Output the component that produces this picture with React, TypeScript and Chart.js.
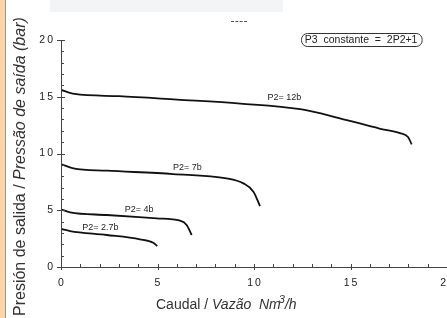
import React, { useEffect, useRef } from "react";
import { Chart, registerables } from "chart.js";

Chart.register(...registerables);

// ---- data ----
const flow12 = [0, 0.7, 3, 6, 9.3, 12.4, 14.45, 16.5, 17.56, 17.98, 18.17];
const press12 = [15.6, 15.25, 15.05, 14.75, 14.4, 13.9, 13.1, 12.2, 11.8, 11.45, 10.8];
const flow7 = [0, 0.64, 2.37, 5.82, 8.58, 9.45, 9.97, 10.31];
const press7 = [9.07, 8.69, 8.49, 8.19, 7.81, 7.37, 6.64, 5.37];
const flow4 = [0, 0.47, 2.37, 4.96, 6.17, 6.51, 6.77];
const press4 = [5.08, 4.82, 4.58, 4.29, 4.08, 3.7, 2.82];
const flow27 = [0, 0.47, 2.37, 4.09, 4.78, 4.99];
const press27 = [3.35, 3.17, 2.82, 2.44, 2.14, 1.85];

const seriesNames = ["P2= 12b", "P2= 7b", "P2= 4b", "P2= 2.7b"];
const labelAtX = [10.7, 5.8, 3.3, 1.1];
const labelAtY = [14.9, 8.8, 5.1, 3.5];

const xTicks = [0, 5, 10, 15, 20];
const yTicks = [0, 5, 10, 15, 20];
const axisMin = 0;
const axisMax = 20;
const noteText = "P3  constante  =  2P2+1";
const noteX = 15.55;
const noteY = 20.05;

const yTitleA = "Presión de salida / ";
const yTitleB = "Pressão de saída (bar)";
const xTitleA = "Caudal / ";
const xTitleB = "Vazão  Nm";
const xTitleSup = "3";
const xTitleC = "/h";

const FONT = '"Liberation Sans", Arial, Helvetica, sans-serif';

function pts(xs: number[], ys: number[]) {
  return xs.map((x, i) => ({ x, y: ys[i] }));
}

const decorPlugin = {
  id: "decor",
  afterDraw(chart: any) {
    const ctx: CanvasRenderingContext2D = chart.ctx;
    const xs = chart.scales.x;
    const ys = chart.scales.y;
    const x0 = xs.getPixelForValue(axisMin);
    const y0 = ys.getPixelForValue(axisMin);
    const xEnd = xs.getPixelForValue(axisMax);
    const yEnd = ys.getPixelForValue(axisMax);
    ctx.save();
    ctx.strokeStyle = "#444";
    ctx.lineWidth = 1;
    // axis lines
    ctx.beginPath();
    ctx.moveTo(Math.round(x0) + 0.5, yEnd);
    ctx.lineTo(Math.round(x0) + 0.5, y0);
    ctx.moveTo(x0, Math.round(y0) + 0.5);
    ctx.lineTo(xEnd, Math.round(y0) + 0.5);
    ctx.stroke();
    // ticks
    ctx.beginPath();
    for (let v = axisMin; v <= axisMax; v++) {
      const py = Math.round(ys.getPixelForValue(v)) + 0.5;
      const px = Math.round(xs.getPixelForValue(v)) + 0.5;
      if (v % 5 === 0) {
        ctx.moveTo(x0 - 4, py);
        ctx.lineTo(x0 + 4, py);
        ctx.moveTo(px, y0 - 3);
        ctx.lineTo(px, y0 + 3);
      } else {
        ctx.moveTo(x0, py);
        ctx.lineTo(x0 + 3, py);
        ctx.moveTo(px, y0);
        ctx.lineTo(px, y0 - 3);
      }
    }
    ctx.stroke();
    // tick labels
    ctx.fillStyle = "#222";
    ctx.font = `10.5px ${FONT}`;
    (ctx as any).letterSpacing = "2px";
    ctx.textBaseline = "middle";
    ctx.textAlign = "right";
    yTicks.forEach((v) => {
      ctx.fillText(String(v), x0 - 6, ys.getPixelForValue(v));
    });
    ctx.textAlign = "center";
    xTicks.forEach((v) => {
      ctx.fillText(String(v), xs.getPixelForValue(v) + 1, y0 + 16);
    });
    (ctx as any).letterSpacing = "0px";
    // series labels
    ctx.font = `9px ${FONT}`;
    ctx.textAlign = "left";
    ctx.fillStyle = "#222";
    seriesNames.forEach((n, i) => {
      ctx.fillText(n, xs.getPixelForValue(labelAtX[i]), ys.getPixelForValue(labelAtY[i]));
    });
    // note box
    ctx.font = `10.5px ${FONT}`;
    const nx = xs.getPixelForValue(noteX);
    const ny = ys.getPixelForValue(noteY);
    const tw = ctx.measureText(noteText).width;
    const bw = tw + 8;
    const bh = 13;
    ctx.beginPath();
    (ctx as any).roundRect(Math.round(nx - bw / 2) + 0.5, Math.round(ny - bh / 2) + 0.5, bw, bh, 6);
    ctx.strokeStyle = "#333";
    ctx.stroke();
    ctx.textAlign = "center";
    ctx.fillStyle = "#222";
    ctx.fillText(noteText, nx, ny + 0.5);
    // x title
    ctx.textAlign = "left";
    ctx.textBaseline = "alphabetic";
    ctx.fillStyle = "#333";
    let cx = 156;
    const by = 309;
    ctx.font = `14px ${FONT}`;
    ctx.fillText(xTitleA, cx, by);
    cx += ctx.measureText(xTitleA).width;
    ctx.font = `italic 14px ${FONT}`;
    ctx.fillText(xTitleB, cx, by);
    cx += ctx.measureText(xTitleB).width - 2;
    ctx.font = `italic 11px ${FONT}`;
    ctx.fillText(xTitleSup, cx, by - 6);
    cx += ctx.measureText(xTitleSup).width;
    ctx.font = `italic 14px ${FONT}`;
    ctx.fillText(xTitleC, cx, by);
    // y title
    ctx.translate(25, 316);
    ctx.rotate(-Math.PI / 2);
    ctx.font = `16px ${FONT}`;
    ctx.fillText(yTitleA, 0, 0);
    const wa = ctx.measureText(yTitleA).width;
    ctx.font = `italic 16px ${FONT}`;
    ctx.fillText(yTitleB, wa, 0);
    ctx.restore();
  },
};

export default function App() {
  const ref = useRef<HTMLCanvasElement | null>(null);
  useEffect(() => {
    document.body.style.margin = "0";
    document.body.style.overflow = "hidden";
    if (!ref.current) return;
    const chart = new Chart(ref.current, {
      type: "line",
      data: {
        datasets: [
          { data: pts(flow12, press12) },
          { data: pts(flow7, press7) },
          { data: pts(flow4, press4) },
          { data: pts(flow27, press27) },
        ].map((d) => ({
          ...d,
          borderColor: "#111",
          borderWidth: 1.8,
          pointRadius: 0,
          fill: false,
          cubicInterpolationMode: "monotone" as const,
        })),
      },
      options: {
        responsive: false,
        animation: false,
        events: [],
        layout: { padding: { left: 61, right: 0, top: 40, bottom: 51 } },
        scales: {
          x: { type: "linear", min: axisMin, max: axisMax, display: false },
          y: { type: "linear", min: axisMin, max: axisMax, display: false },
        },
        plugins: { legend: { display: false }, tooltip: { enabled: false } },
      },
      plugins: [decorPlugin],
    });
    return () => chart.destroy();
  }, []);
  return (
    <div style={{ position: "relative", width: 447, height: 318, background: "#fff", overflow: "hidden" }}>
      <div style={{ position: "absolute", left: 0, top: 0, width: 5, height: 318, background: "#fcd6a6", borderRight: "1px solid #9a958e" }} />
      <div style={{ position: "absolute", left: 50, top: 0, width: 233, height: 12, background: "#f2f4f6" }} />
      <div style={{ position: "absolute", left: 231, top: 21, width: 16, height: 0, borderTop: "1px dashed #555" }} />
      <canvas ref={ref} width={447} height={318} style={{ position: "absolute", left: 0, top: 0, width: 447, height: 318 }} />
    </div>
  );
}
